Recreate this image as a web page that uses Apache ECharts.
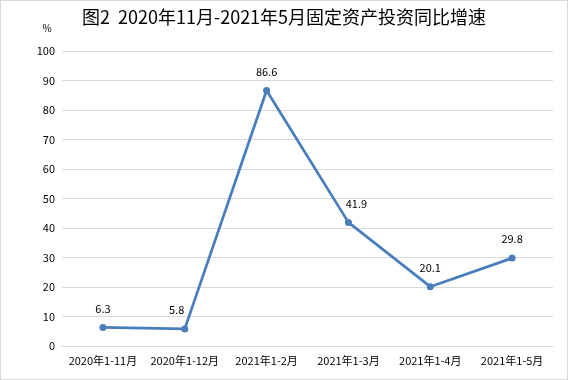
<!DOCTYPE html>
<html><head><meta charset="utf-8">
<script src="https://cdn.jsdelivr.net/npm/echarts@6/dist/echarts.min.js"></script>
<style>html,body{margin:0;padding:0;background:#fff}#c{width:568px;height:380px;box-sizing:border-box;border:1px solid #d9d9d9}</style>
</head><body><div id="c"></div>
<script>
const categories = ['2020年1-11月','2020年1-12月','2021年1-2月','2021年1-3月','2021年1-4月','2021年1-5月'];
const values = [6.3, 5.8, 86.6, 41.9, 20.1, 29.8];
const yTicks = [0,10,20,30,40,50,60,70,80,90,100];
const titleText = '图2  2020年11月-2021年5月固定资产投资同比增速';
const unitText = '%';

const chart = echarts.init(document.getElementById('c'));
const font = '"Noto Sans CJK SC", "Microsoft YaHei", sans-serif';
const labelOffsets = [[0,0],[-8,0],[0,0],[8,0],[0,0],[0,0]];
chart.setOption({
  animation:false,
  textStyle:{fontFamily:font},
  title:{text:titleText,left:'center',top:2,textStyle:{fontSize:18,fontWeight:'normal',color:'#000',fontFamily:font}},
  grid:{left:61,right:14,top:50,bottom:33},
  xAxis:{type:'category',data:categories,boundaryGap:true,
    axisLine:{lineStyle:{color:'#d9d9d9'}},axisTick:{show:false},
    axisLabel:{color:'#000',fontSize:11,margin:9,interval:0,fontFamily:font}},
  yAxis:{type:'value',min:yTicks[0],max:yTicks[yTicks.length-1],interval:10,
    name:unitText,nameLocation:'end',nameGap:18,nameTextStyle:{color:'#000',fontSize:10,padding:[0,30,0,0]},
    axisLine:{show:false},axisTick:{show:false},
    splitLine:{lineStyle:{color:'#d9d9d9'}},
    axisLabel:{color:'#000',fontSize:11,margin:7,fontFamily:font}},
  series:[{type:'line',data:values.map((v,i)=>({value:v,label:{offset:labelOffsets[i]}})),
    symbol:'circle',symbolSize:7,
    lineStyle:{color:'#4a7ebb',width:2.75},itemStyle:{color:'#4a7ebb'},
    label:{show:true,position:'top',distance:10,color:'#000',fontSize:11,fontFamily:font}}]
});
</script></body></html>
